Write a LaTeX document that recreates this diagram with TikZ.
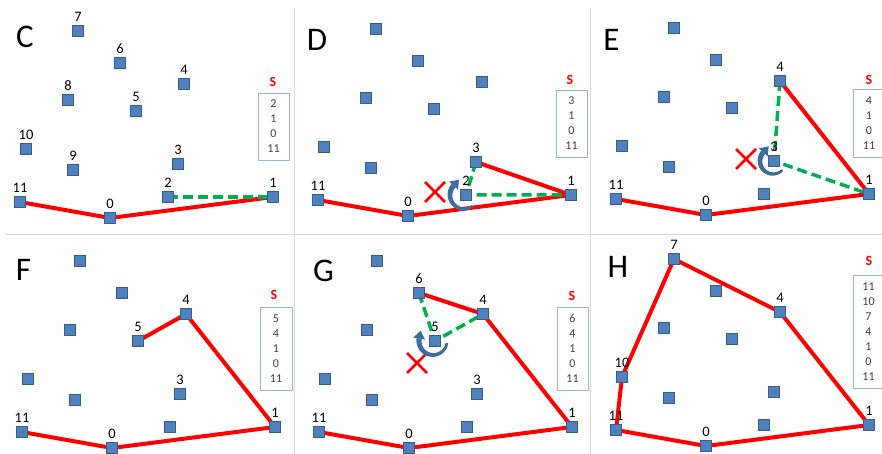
\documentclass[tikz,border=0pt]{standalone}
\usepackage{fontspec}
\setmainfont{Carlito}
\usetikzlibrary{calc}
\pgfdeclarelayer{background}
\pgfsetlayers{background,main}
\definecolor{sqfill}{RGB}{79,129,189}
\definecolor{sqdraw}{RGB}{56,93,138}
\definecolor{hullred}{RGB}{255,0,0}
\definecolor{probegreen}{RGB}{0,176,80}
\definecolor{rotblue}{RGB}{62,108,158}
\definecolor{boxblue}{RGB}{149,179,215}
\definecolor{sepgray}{RGB}{217,217,217}
\definecolor{listtext}{RGB}{64,64,64}
\tikzset{
  pt/.style={rectangle, fill=sqfill, draw=sqdraw, line width=1.1pt, minimum size=11pt, inner sep=0pt},
  num/.style={font=\fontsize{14.5}{14.5}\selectfont, inner sep=0pt, text=black},
  hull/.style={draw=hullred, line width=4pt, line join=round},
  probe/.style={draw=probegreen, line width=3.5pt, dash pattern=on 10pt off 5pt},
  crossline/.style={draw=hullred, line width=2.6pt},
  panelletter/.style={font=\fontsize{33}{33}\selectfont, inner sep=0pt, text=black},
  slabel/.style={font=\fontsize{14}{14}\selectfont\bfseries, inner sep=0pt, text=hullred},
  listbox/.style={draw=boxblue, line width=0.8pt, minimum width=31pt, inner sep=0pt, align=center,
    font=\fontsize{12}{15}\selectfont, text=listtext},
  sepline/.style={draw=sepgray, line width=1pt}
}
\newcommand{\pointset}[3]{%
  \foreach \ii/\xx/\yy in {0/110/218, 1/273/197, 2/168/197, 3/178/164, 4/184/84, 5/136/111,
      6/120/63, 7/78/31, 8/68/100, 9/73/170, 10/26/149, 11/20/202} {
    \node[pt] (#1\ii) at ({\xx+#2},{\yy+#3}) {};
  }}
\newcommand{\lbl}[2]{\node[num] (#1l) at ($(#1)+(0,-14.5)$) {#2};}
\newcommand{\crossmark}[3]{%
  \coordinate (#1) at (#2,#3);
  \draw[crossline] ($(#1)+(-10,-10)$) -- ($(#1)+(10,10)$) ($(#1)+(-10,10)$) -- ($(#1)+(10,-10)$);}
\newcommand{\rotarrow}[6]{%
  \coordinate (#1) at (#2,#3);
  \fill[rotblue] plot[domain=#5:#6, samples=30, variable=\t]
     ({#2+(#4+1.3+1.4*(\t-#5)/(#6-#5))*cos(\t)},{#3+(#4+1.3+1.4*(\t-#5)/(#6-#5))*sin(\t)})
     -- plot[domain=#6:#5, samples=30, variable=\t]
     ({#2+(#4-1.3-1.4*(\t-#5)/(#6-#5))*cos(\t)},{#3+(#4-1.3-1.4*(\t-#5)/(#6-#5))*sin(\t)})
     -- cycle;
  \fill[rotblue] ($(#1)+({#6}:{#4+6})$) -- ($(#1)+({#6}:{#4})+({#6+90}:8)$)
     -- ($(#1)+({#6}:{#4-6})$) -- cycle;}
\begin{document}
\begin{tikzpicture}[x=1pt,y=-1pt]
\useasboundingbox (0,0) rectangle (882,454);

% ---------- points of all six panels ----------
\pointset{C}{0}{0}
\pointset{D}{298}{-2}
\pointset{E}{596}{-3}
\pointset{F}{2}{230}
\pointset{G}{299}{230}
\pointset{H}{596}{228}

% ---------- background: page, separators, hull lines ----------
\begin{pgfonlayer}{background}
  \fill[white] (0,0) rectangle (882,454);
  \draw[sepline] (294.5,8) -- (294.5,454);
  \draw[sepline] (590,8) -- (590,454);
  \draw[sepline] (6,234) -- (882,234);
  % C
  \draw[hull] (C11.center) -- (C0.center) -- (C1.center);
  \draw[probe] (C2.center) -- (C1.center);
  % D
  \draw[hull] (D11.center) -- (D0.center) -- (D1.center) -- (D3.center);
  \draw[probe] (D3.center) -- (D2.center) -- (D1.center);
  % E
  \draw[hull] (E11.center) -- (E0.center) -- (E1.center) -- (E4.center);
  \draw[probe] (E4.center) -- (E3.center) -- (E1.center);
  % F
  \draw[hull] (F11.center) -- (F0.center) -- (F1.center) -- (F4.center) -- (F5.center);
  % G
  \draw[hull] (G11.center) -- (G0.center) -- (G1.center) -- (G4.center) -- (G6.center);
  \draw[probe] (G6.center) -- (G5.center) -- (G4.center);
  % H
  \draw[hull] (H11.center) -- (H0.center) -- (H1.center) -- (H4.center) -- (H7.center) -- (H10.center) -- cycle;
\end{pgfonlayer}

% ---------- panel letters ----------
\node[panelletter] (LC) at (25,37) {C};
\node[panelletter] (LD) at (317,39.5) {D};
\node[panelletter] (LE) at (611.5,40) {E};
\node[panelletter] (LF) at (23.5,269.5) {F};
\node[panelletter] (LG) at (323.5,270.5) {G};
\node[panelletter] (LH) at (618,267) {H};

% ---------- point labels ----------
\foreach \k in {0,...,11} {\lbl{C\k}{\k}}
\lbl{D11}{11}\lbl{D0}{0}\lbl{D3}{3}\lbl{D2}{2}\lbl{D1}{1}
\lbl{E4}{4}\lbl{E3}{3}\lbl{E11}{11}\lbl{E0}{0}\lbl{E1}{1}
\lbl{F11}{11}\lbl{F0}{0}\lbl{F1}{1}\lbl{F3}{3}\lbl{F4}{4}\lbl{F5}{5}
\lbl{G6}{6}\lbl{G4}{4}\lbl{G5}{5}\lbl{G3}{3}\lbl{G11}{11}\lbl{G0}{0}\lbl{G1}{1}
\lbl{H7}{7}\lbl{H4}{4}\lbl{H10}{10}\lbl{H11}{11}\lbl{H0}{0}\lbl{H1}{1}

% ---------- rejections and turns ----------
\crossmark{XD}{435}{192}
\rotarrow{RD}{464}{195}{14}{52}{222}
\crossmark{XE}{746}{159}
\rotarrow{RE}{773}{161}{13}{45}{222}
\crossmark{XG}{417}{363}
\rotarrow{RG}{433}{341}{14}{8}{190}

% ---------- stacks ----------
\node[slabel] (SC) at (273,82) {S};
\node[listbox, minimum height=67pt] (BC) at (273.5,126.5) {2\\1\\0\\11};
\node[slabel] (SD) at (570,80) {S};
\node[listbox, minimum height=67pt] (BD) at (571.5,123.5) {3\\1\\0\\11};
\node[slabel] (SE) at (869,80) {S};
\node[listbox, minimum height=68pt] (BE) at (869,123) {4\\1\\0\\11};
\node[slabel] (SF) at (274,295) {S};
\node[listbox, minimum height=83pt, minimum width=32pt] (BF) at (276,348.5) {5\\4\\1\\0\\11};
\node[slabel] (SG) at (572,296) {S};
\node[listbox, minimum height=83pt] (BG) at (572.5,348.5) {6\\4\\1\\0\\11};
\node[slabel] (SH) at (869,261) {S};
\node[listbox, minimum height=113pt] (BH) at (868.5,331.5) {11\\10\\7\\4\\1\\0\\11};
\end{tikzpicture}
\end{document}
